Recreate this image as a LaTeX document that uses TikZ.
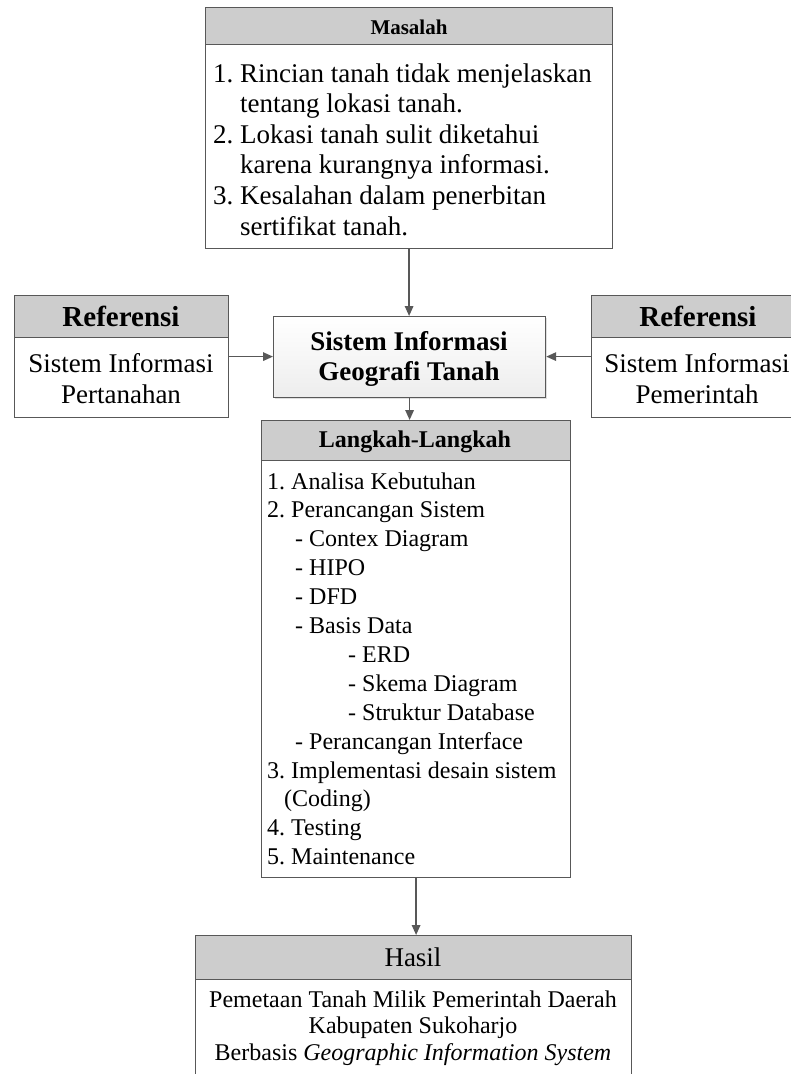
\documentclass[tikz,border=0pt]{standalone}
\usepackage{fontspec}
\setmainfont{Liberation Serif}
\usetikzlibrary{arrows.meta,shadows}
\definecolor{linegray}{RGB}{88,88,88}
\definecolor{hdrgray}{RGB}{205,205,205}
\begin{document}
\frenchspacing
\begin{tikzpicture}[x=1pt,y=-1pt,
  box/.style={draw=linegray, line width=1.2pt, fill=white, rectangle, inner sep=0pt, anchor=north west},
  hdr/.style={draw=linegray, line width=1.2pt, fill=hdrgray, rectangle, inner sep=0pt, anchor=north west},
  sigbox/.style={draw=linegray, line width=1.2pt, rectangle, inner sep=0pt, anchor=north west,
     top color=white, bottom color=gray!14,
     drop shadow={opacity=0.25, shadow xshift=1.5pt, shadow yshift=-1.5pt}},
  ltxt/.style={inner sep=0pt, anchor=base west},
  ctxt/.style={inner sep=0pt, anchor=base},
  arr/.style={draw=linegray, line width=1.6pt, -{Triangle[length=10pt,width=8.5pt]}},
  fbig/.style={font=\fontsize{27}{30}\selectfont},
  fbigb/.style={font=\fontsize{27}{30}\selectfont\bfseries},
  fref/.style={font=\fontsize{29}{32}\selectfont\bfseries},
  fmid/.style={font=\fontsize{24}{28}\selectfont},
  fmidb/.style={font=\fontsize{24}{28}\selectfont\bfseries},
  fsmb/.style={font=\fontsize{21}{24}\selectfont\bfseries}
]
\useasboundingbox (0,0) rectangle (791,1074);
\clip (0,0) rectangle (791,1074);

% ---------- Masalah ----------
\node[box, minimum width=407pt, minimum height=241pt] (masalah) at (205,7) {};
\node[hdr, minimum width=407pt, minimum height=37pt] (masalahH) at (205,7) {};
\node[ctxt, fsmb] (masalahT) at (409,34) {Masalah};
\node[ltxt, fbig] (m1) at (213,82) {1. Rincian tanah tidak menjelaskan};
\node[ltxt, fbig] (m2) at (240,112.6) {tentang lokasi tanah.};
\node[ltxt, fbig] (m3) at (213,143.2) {2. Lokasi tanah sulit diketahui};
\node[ltxt, fbig] (m4) at (240,173.8) {karena kurangnya informasi.};
\node[ltxt, fbig] (m5) at (213,204.4) {3. Kesalahan dalam penerbitan};
\node[ltxt, fbig] (m6) at (240,235) {sertifikat tanah.};

% ---------- Referensi kiri ----------
\node[box, minimum width=214pt, minimum height=122pt] (refL) at (14,295) {};
\node[hdr, minimum width=214pt, minimum height=42pt] (refLH) at (14,295) {};
\node[ctxt, fref] (refLT) at (121,326) {Referensi};
\node[ctxt, fbig] (refL1) at (121,372) {Sistem Informasi};
\node[ctxt, fbig] (refL2) at (121,403) {Pertanahan};

% ---------- Referensi kanan ----------
\node[box, minimum width=214pt, minimum height=122pt] (refR) at (591,295) {};
\node[hdr, minimum width=214pt, minimum height=42pt] (refRH) at (591,295) {};
\node[ctxt, fref] (refRT) at (698,326) {Referensi};
\node[ctxt, fbig] (refR1) at (697,372) {Sistem Informasi};
\node[ctxt, fbig] (refR2) at (697,403) {Pemerintah};

% ---------- Sistem Informasi Geografi Tanah ----------
\node[sigbox, minimum width=272pt, minimum height=81pt] (sig) at (273,316) {};
\node[ctxt, fbigb] (sig1) at (409,350) {Sistem Informasi};
\node[ctxt, fbigb] (sig2) at (409,380) {Geografi Tanah};

% ---------- Langkah-Langkah ----------
\node[box, minimum width=309pt, minimum height=457pt] (langkah) at (261,420) {};
\node[hdr, minimum width=309pt, minimum height=40pt] (langkahH) at (261,420) {};
\node[ctxt, fmidb] (langkahT) at (415,447) {Langkah-Langkah};
\node[ltxt, fmid] (l1) at (267,489.0) {1. Analisa Kebutuhan};
\node[ltxt, fmid] (l2) at (267,517.9) {2. Perancangan Sistem};
\node[ltxt, fmid] (l3) at (295,546.8) {- Contex Diagram};
\node[ltxt, fmid] (l4) at (295,575.7) {- HIPO};
\node[ltxt, fmid] (l5) at (295,604.6) {- DFD};
\node[ltxt, fmid] (l6) at (295,633.5) {- Basis Data};
\node[ltxt, fmid] (l7) at (348,662.4) {- ERD};
\node[ltxt, fmid] (l8) at (348,691.3) {- Skema Diagram};
\node[ltxt, fmid] (l9) at (348,720.2) {- Struktur Database};
\node[ltxt, fmid] (l10) at (295,749.1) {- Perancangan Interface};
\node[ltxt, fmid] (l11) at (267,778.0) {3. Implementasi desain sistem};
\node[ltxt, fmid] (l12) at (284,806.9) {(Coding)};
\node[ltxt, fmid] (l13) at (267,835.8) {4. Testing};
\node[ltxt, fmid] (l14) at (267,864.7) {5. Maintenance};

% ---------- Hasil ----------
\node[box, minimum width=436pt, minimum height=200pt] (hasil) at (195,935) {};
\node[hdr, minimum width=436pt, minimum height=44pt] (hasilH) at (195,935) {};
\node[ctxt, fbig] (hasilT) at (413,966) {Hasil};
\node[ctxt, fmid] (h1) at (413,1007) {Pemetaan Tanah Milik Pemerintah Daerah};
\node[ctxt, fmid] (h2) at (413,1033.5) {Kabupaten Sukoharjo};
\node[ctxt, fmid] (h3) at (413,1060) {Berbasis \textit{Geographic Information System}};

% ---------- Connectors ----------
\draw[arr] (masalah.south) -- (masalah.south |- sig.north);
\draw[arr] (refL.east) -- (refL.east -| sig.west);
\draw[arr] (refR.west) -- (refR.west -| sig.east);
\draw[arr] (sig.south) -- (sig.south |- langkah.north);
\draw[arr] (langkah.south) -- (langkah.south |- hasil.north);
\end{tikzpicture}
\end{document}
